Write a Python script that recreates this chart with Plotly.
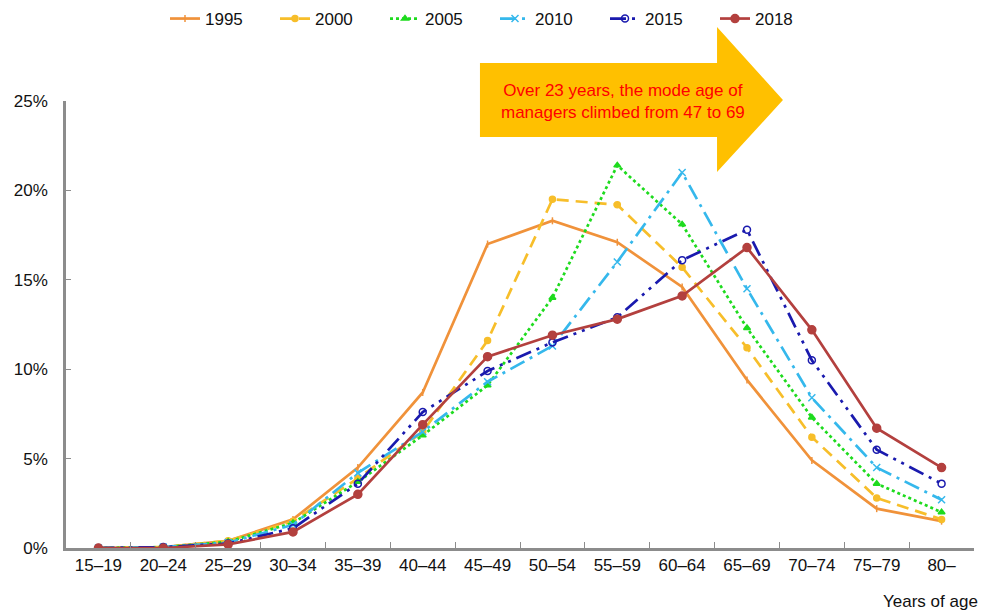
import plotly.graph_objects as go

categories = ["15–19", "20–24", "25–29", "30–34", "35–39", "40–44", "45–49",
              "50–54", "55–59", "60–64", "65–69", "70–74", "75–79", "80–"]

y1995 = [0.0, 0.05, 0.4, 1.6, 4.5, 8.7, 17.0, 18.3, 17.1, 14.6, 9.4, 4.9, 2.2, 1.5]
y2000 = [0.0, 0.05, 0.4, 1.5, 3.9, 6.5, 11.6, 19.5, 19.2, 15.7, 11.2, 6.2, 2.8, 1.6]
y2005 = [0.0, 0.05, 0.35, 1.4, 3.7, 6.3, 9.1, 14.0, 21.4, 18.1, 12.3, 7.3, 3.6, 2.0]
y2010 = [0.0, 0.05, 0.3, 1.3, 4.2, 6.5, 9.3, 11.3, 16.0, 21.0, 14.5, 8.4, 4.5, 2.7]
y2015 = [0.0, 0.05, 0.25, 1.1, 3.6, 7.6, 9.9, 11.5, 12.9, 16.1, 17.8, 10.5, 5.5, 3.6]
y2018 = [0.0, 0.0, 0.2, 0.9, 3.0, 6.9, 10.7, 11.9, 12.8, 14.1, 16.8, 12.2, 6.7, 4.5]

y_tickvals = [0, 5, 10, 15, 20, 25]
y_ticktext = ["0%", "5%", "10%", "15%", "20%", "25%"]

series = [
    ("1995", y1995, "#F0923A", "solid", "line-ns-open", 5),
    ("2000", y2000, "#F7BE2A", "12px,7px", "circle", 6),
    ("2005", y2005, "#1EDB1E", "dot", "triangle-up", 6),
    ("2010", y2010, "#35B8EC", "16px,6px,3px,6px", "x-thin-open", 7),
    ("2015", y2015, "#1A1AAE", "16px,6px,3px,6px,3px,6px", "circle-open", 7),
    ("2018", y2018, "#B3403E", "solid", "circle", 8),
]

fig = go.Figure()
for name, vals, color, dash, sym, msize in series:
    fig.add_trace(go.Scatter(
        x=categories, y=vals, name=name, mode="lines+markers",
        line=dict(color=color, width=2.7, dash=dash),
        marker=dict(color=color, symbol=sym, size=msize,
                    line=dict(color=color, width=1.5)),
    ))

L, R, T, B = 66, 7, 101, 62
W, H = 981, 610
pw, ph = W - L - R, H - T - B


def px(x):
    return (x - L) / pw


def py(y):
    return (H - B - y) / ph


arrow_pts = [(480, 63), (717, 63), (717, 27), (783, 100), (717, 172), (717, 137), (480, 137)]
path = "M " + " L ".join(f"{px(a):.4f},{py(b):.4f}" for a, b in arrow_pts) + " Z"

fig.add_shape(type="path", path=path, xref="paper", yref="paper",
              fillcolor="#FFC000", line=dict(width=0), layer="below")

fig.add_annotation(text="Over 23 years, the mode age of<br>managers climbed from 47 to 69",
                   xref="paper", yref="paper", x=px(623), y=py(101),
                   showarrow=False, font=dict(color="#FF0000", size=17),
                   xanchor="center", yanchor="middle")

fig.add_annotation(text="Years of age", xref="paper", yref="paper",
                   x=px(980), y=py(601), showarrow=False,
                   font=dict(color="#111111", size=17),
                   xanchor="right", yanchor="middle")

fig.update_layout(
    width=W, height=H,
    margin=dict(l=L, r=R, t=T, b=B, autoexpand=False),
    paper_bgcolor="white", plot_bgcolor="white",
    font=dict(family="Liberation Sans, Arial, sans-serif", size=17, color="#111111"),
    showlegend=True,
    legend=dict(orientation="h", xref="container", yref="container",
                x=165 / W, y=1 - 19 / H, xanchor="left", yanchor="middle",
                font=dict(size=17), entrywidth=65, entrywidthmode="pixels",
                bgcolor="rgba(0,0,0,0)"),
    xaxis=dict(type="category", range=[-0.5, 13.5], showline=True, linecolor="#8c8c8c",
               linewidth=2.5, ticks="inside", ticklen=6, tickcolor="#8c8c8c",
               tickson="boundaries", showgrid=False, zeroline=False, automargin=False,
               tickfont=dict(size=17)),
    yaxis=dict(range=[0, 25], tickvals=y_tickvals, ticktext=y_ticktext,
               showline=True, linecolor="#8c8c8c", linewidth=2.5, ticks="inside",
               ticklen=5, tickcolor="#8c8c8c", showgrid=False, zeroline=False,
               automargin=False, ticklabelstandoff=12, tickfont=dict(size=17)),
)

fig.write_html("out.html", config={"displayModeBar": False},
               post_script="document.body.style.margin='0';document.body.style.overflow='hidden';")
